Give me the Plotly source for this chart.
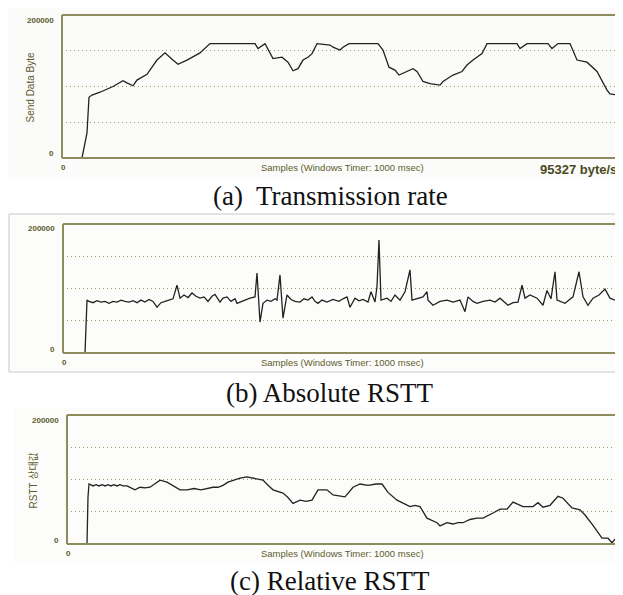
import plotly.graph_objects as go

# The page body has an 8px margin, so the figure is shifted by OFF and sized accordingly
OFF = 8
W, H = 623 - OFF, 595 - OFF

# ---------------- data (sample index, bytes) ----------------
rate_x = [0, 20, 25, 27, 30, 38, 51, 61, 65, 71, 75, 85, 95, 103, 110, 116, 125, 138, 148, 171, 193,
          196, 203, 211, 220, 226, 231, 236, 241, 246, 250, 255, 268, 271, 278, 281, 287, 316, 321,
          327, 333, 337, 345, 351, 355, 361, 368, 378, 381, 391, 400, 405, 411, 420, 425, 455, 458,
          465, 486, 490, 496, 508, 515, 525, 535, 545, 548, 556, 561]
rate_y = [0, 0, 35000, 85000, 88000, 92000, 100000, 108000, 105000, 101000, 109000, 117000, 137000,
          147000, 138000, 131000, 137000, 147000, 160000, 160000, 160000, 153000, 160000, 139000,
          141000, 134000, 122000, 125000, 137000, 141000, 146000, 160000, 158000, 155000, 151000,
          155000, 160000, 160000, 151000, 127000, 123000, 116000, 121000, 125000, 121000, 107000,
          104000, 102000, 107000, 116000, 121000, 130000, 137000, 146000, 160000, 160000, 153000,
          160000, 160000, 153000, 160000, 160000, 137000, 134000, 121000, 95000, 89500, 88000, 95000]

abs_x = [0, 22, 24, 26, 30, 34, 38, 42, 46, 50, 54, 58, 62, 66, 70, 74, 78, 82, 86, 90, 94, 98, 102,
         106, 110, 114, 117, 121, 125, 129, 133, 137, 141, 145, 149, 152, 157, 160, 164, 168, 172,
         174, 178, 182, 187, 192, 194, 197, 200, 204, 208, 212, 214, 217, 220, 224, 228, 232, 237,
         241, 245, 249, 252, 255, 259, 264, 270, 276, 280, 284, 287, 292, 296, 300, 305, 308, 312,
         314, 316, 318, 324, 328, 332, 337, 342, 347, 349, 354, 360, 364, 365, 370, 377, 384, 390,
         397, 402, 405, 410, 414, 420, 427, 432, 437, 441, 445, 450, 455, 459, 462, 467, 474, 480,
         484, 488, 492, 494, 498, 502, 506, 510, 516, 520, 525, 530, 536, 542, 547, 552, 557]
abs_y = [0, 0, 82000, 80000, 78000, 81000, 79000, 80000, 77000, 80000, 79000, 82000, 80000, 79000,
         81000, 78000, 82000, 79000, 83000, 80000, 71000, 78000, 80000, 82000, 84000, 105000, 85000,
         90000, 86000, 93000, 88000, 85000, 87000, 80000, 88000, 91000, 79000, 85000, 87000, 80000,
         84000, 77000, 80000, 82000, 85000, 87000, 124000, 48000, 77000, 82000, 80000, 84000, 82000,
         121000, 54000, 90000, 83000, 80000, 79000, 84000, 82000, 87000, 80000, 77000, 82000, 79000,
         83000, 80000, 84000, 87000, 71000, 85000, 81000, 83000, 79000, 95000, 79000, 103000, 175000,
         82000, 85000, 80000, 90000, 82000, 95000, 129000, 82000, 84000, 87000, 95000, 82000, 74000,
         80000, 82000, 79000, 82000, 64000, 87000, 80000, 77000, 80000, 82000, 79000, 85000, 80000,
         74000, 78000, 79000, 105000, 85000, 90000, 85000, 74000, 97000, 84000, 126000, 82000, 80000,
         77000, 82000, 87000, 126000, 87000, 74000, 85000, 90000, 99000, 85000, 82000, 79000]

rel_x = [0, 20, 21, 22, 26, 29, 32, 35, 38, 41, 44, 47, 50, 53, 56, 60, 64, 68, 73, 78, 83, 88, 93,
         100, 106, 113, 120, 127, 134, 140, 146, 151, 156, 161, 166, 173, 180, 188, 196, 201, 206,
         216, 221, 226, 233, 239, 245, 251, 260, 266, 272, 278, 286, 293, 301, 309, 315, 321, 330,
         337, 343, 348, 353, 360, 365, 370, 373, 380, 386, 391, 396, 403, 410, 416, 426, 433, 440,
         446, 456, 466, 471, 476, 483, 491, 496, 505, 513, 518, 526, 535, 541, 545, 550]
rel_y = [0, 0, 73000, 93000, 90000, 92000, 90000, 92000, 90000, 92000, 90000, 92000, 90000, 92000,
         90000, 90000, 87000, 84000, 88000, 87000, 88000, 94000, 99000, 96000, 90000, 84000, 84000,
         86000, 84000, 86000, 88000, 88000, 91000, 96000, 99000, 102000, 104000, 101000, 99000, 91000,
         84000, 79000, 72000, 63000, 68000, 66000, 68000, 84000, 84000, 76000, 75000, 73000, 88000,
         93000, 91000, 93000, 93000, 80000, 68000, 62000, 58000, 60000, 58000, 40000, 36000, 33000,
         28000, 33000, 31000, 33000, 33000, 38000, 40000, 40000, 48000, 54000, 54000, 65000, 58000,
         58000, 64000, 57000, 60000, 74000, 71000, 56000, 53000, 45000, 29000, 9000, 9000, 2000, 11000]

grid_vals = [50000, 100000, 150000]
y_max = 200000
tick_labels = ["200000", "0"]
captions = ["(a)  Transmission rate", "(b) Absolute RSTT", "(c) Relative RSTT"]
y_titles = ["Send Data Byte", "", "RSTT 상대값"]
x_title = "Samples (Windows Timer: 1000 msec)"
rate_readout = "95327 byte/s"

# ---------------- layout helpers (reference-pixel -> paper) ----------------
def px(x):
    return (x - OFF) / W

def py(y):
    return 1 - (y - OFF) / H

OLIVE = "#8c8c5c"
TXT = "#5c5c2c"
GRID = "#9c9c68"

panels = [
    dict(l=62, r=623, t=15, b=158, xmax=561, right=False, xs=rate_x, ys=rate_y),
    dict(l=63, r=622, t=224, b=353, xmax=559, right=True, xs=abs_x, ys=abs_y),
    dict(l=67, r=618, t=415, b=544, xmax=551, right=True, xs=rel_x, ys=rel_y),
]
cap_y = [196, 393, 581]
ytitle_x = [30, 0, 33]

fig = go.Figure()
shapes = []
annotations = []

# faint screenshot backgrounds
shapes.append(dict(type="rect", xref="paper", yref="paper", x0=px(8), x1=px(624), y0=py(179), y1=py(8),
                   fillcolor="#fbfbfa", line=dict(width=0), layer="below"))
shapes.append(dict(type="rect", xref="paper", yref="paper", x0=px(9), x1=px(624), y0=py(372), y1=py(214),
                   fillcolor="#fcfcfb", line=dict(color="#c8c8c8", width=1), layer="below"))
shapes.append(dict(type="rect", xref="paper", yref="paper", x0=px(13), x1=px(624), y0=py(563), y1=py(408),
                   fillcolor="#fcfcfb", line=dict(width=0), layer="below"))

for i, p in enumerate(panels):
    n = "" if i == 0 else str(i + 1)
    xa = "xaxis" + n
    ya = "yaxis" + n
    fig.add_trace(go.Scatter(x=p["xs"], y=p["ys"], mode="lines",
                             line=dict(color="#222222", width=1.3),
                             xaxis="x" + n, yaxis="y" + n, showlegend=False, hoverinfo="skip"))
    fig.update_layout(**{
        xa: dict(domain=[px(p["l"]), min(1, px(p["r"]))], range=[0, p["xmax"]], showgrid=False,
                 zeroline=False, showticklabels=False, showline=False, anchor="y" + n, fixedrange=True),
        ya: dict(domain=[py(p["b"]), py(p["t"])], range=[0, y_max], tickvals=grid_vals, showgrid=True,
                 gridcolor=GRID, griddash="1px,3px", gridwidth=1, zeroline=False, showticklabels=False,
                 showline=False, anchor="x" + n, fixedrange=True),
    })
    xd = "x" + n + " domain"
    yd = "y" + n + " domain"
    lw = 2
    shapes.append(dict(type="line", xref=xd, yref=yd, x0=0, x1=1, y0=1, y1=1, line=dict(color=OLIVE, width=lw)))
    shapes.append(dict(type="line", xref=xd, yref=yd, x0=0, x1=1, y0=0, y1=0, line=dict(color=OLIVE, width=lw)))
    shapes.append(dict(type="line", xref=xd, yref=yd, x0=0, x1=0, y0=0, y1=1, line=dict(color=OLIVE, width=lw)))
    if p["right"]:
        shapes.append(dict(type="line", xref=xd, yref=yd, x0=1, x1=1, y0=0, y1=1, line=dict(color=OLIVE, width=lw)))

    f_small = dict(family="Liberation Sans, Arial", size=8, color=TXT)
    annotations += [
        dict(text="<b>" + tick_labels[0] + "</b>", x=px(p["l"] - 6), y=py(p["t"] + 5), xref="paper", yref="paper",
             xanchor="right", yanchor="middle", showarrow=False, font=f_small),
        dict(text="<b>" + tick_labels[1] + "</b>", x=px(p["l"] - 6), y=py(p["b"] - 4), xref="paper", yref="paper",
             xanchor="right", yanchor="middle", showarrow=False, font=f_small),
        dict(text="<b>0</b>", x=px(p["l"] + 1), y=py(p["b"] + 9), xref="paper", yref="paper",
             xanchor="center", yanchor="middle", showarrow=False, font=f_small),
        dict(text=x_title, x=px(342), y=py(p["b"] + 9), xref="paper", yref="paper",
             xanchor="center", yanchor="middle", showarrow=False,
             font=dict(family="Liberation Sans, Arial", size=9.5, color=TXT)),
        dict(text=captions[i], x=px(330), y=py(cap_y[i]), xref="paper", yref="paper",
             xanchor="center", yanchor="middle", showarrow=False,
             font=dict(family="Liberation Serif, Times New Roman", size=27, color="#111111")),
    ]
    if y_titles[i]:
        annotations.append(dict(text=y_titles[i], x=px(ytitle_x[i]), y=py((p["t"] + p["b"]) / 2 + 1),
                                xref="paper", yref="paper", textangle=-90, xanchor="center", yanchor="middle",
                                showarrow=False,
                                font=dict(family="Liberation Sans, Noto Sans CJK KR", size=10, color=TXT)))

annotations.append(dict(text="<b>" + rate_readout + "</b>", x=px(538), y=py(169), xref="paper", yref="paper",
                        xanchor="left", yanchor="middle", showarrow=False,
                        font=dict(family="Liberation Sans, Arial", size=13, color="#4a4a1e")))

fig.update_layout(width=W, height=H, margin=dict(l=0, r=0, t=0, b=0), paper_bgcolor="white",
                  plot_bgcolor="white", shapes=shapes, annotations=annotations)

fig.write_html("out.html")
